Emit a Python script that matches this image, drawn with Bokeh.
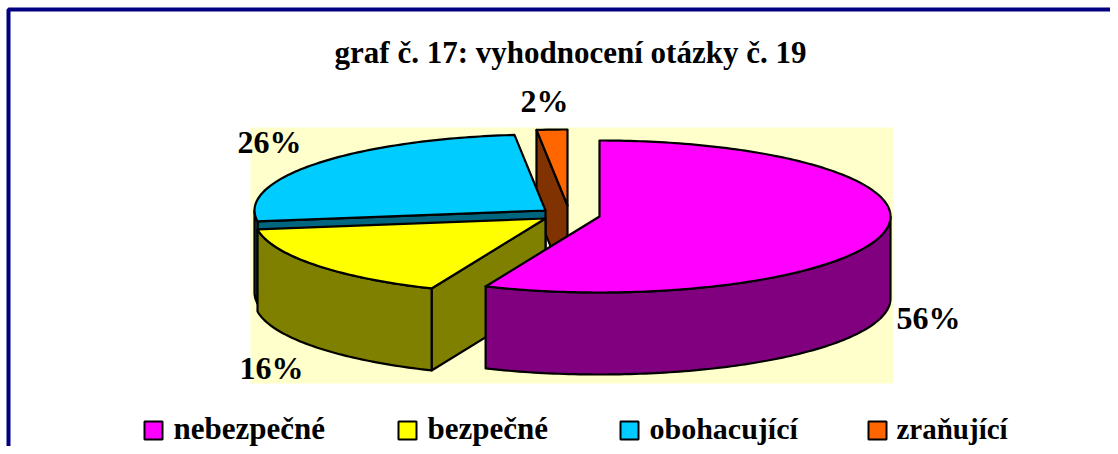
import math
from bokeh.plotting import figure
from bokeh.models import Range1d
from bokeh.core.properties import value
from bokeh.embed import file_html
from bokeh.resources import INLINE

categories = ["nebezpečné", "bezpečné", "obohacující", "zraňující"]
shares = [56.4, 16.3, 25.6, 1.7]
labels = ["56%", "16%", "26%", "2%"]
top_colors = ["#FF00FF", "#FFFF00", "#00CCFF", "#FF6600"]
side_colors = ["#800080", "#808000", "#006680", "#803300"]
title_text = "graf č. 17: vyhodnocení otázky č. 19"

W, H = 1110, 446
p = figure(width=W, height=H, output_backend="svg", toolbar_location=None,
           x_range=Range1d(0, W), y_range=Range1d(H, 0), min_border=0,
           outline_line_color=None)
p.axis.visible = False
p.grid.visible = False

FONT = value("Liberation Serif")
RX, RY, DEPTH = 291, 76, 82
centers = [(599, 216), (545, 218), (545, 210), (567, 205)]

# frame and plot-area background
p.quad(left=[8], right=[1130], top=[9], bottom=[470], fill_color="white",
       line_color="#000080", line_width=4)
p.quad(left=[250], right=[893], top=[127], bottom=[383], fill_color="#FFFFCC", line_color=None)

# angles measured clockwise from 12 o'clock
edges = [0]
for s in shares:
    edges.append(edges[-1] + s * 3.6)

def pt(c, a, dy=0):
    r = math.radians(a)
    return c[0] + RX * math.sin(r), c[1] - RY * math.cos(r) + dy

def rim(c, a0, a1, dy=0):
    n = max(2, int(abs(a1 - a0)) + 1)
    return [pt(c, a0 + (a1 - a0) * i / (n - 1), dy) for i in range(n)]

def draw(points, color):
    p.patch([q[0] for q in points], [q[1] for q in points], fill_color=color,
            line_color="black", line_width=2.2, line_join="round")

# painter's order: back slices first
for i in [3, 2, 1, 0]:
    c, a0, a1 = centers[i], edges[i], edges[i + 1]
    # cut face at the start of the slice when it looks towards the viewer
    if i != 0:
        f = pt(c, a0)
        draw([c, f, (f[0], f[1] + DEPTH), (c[0], c[1] + DEPTH)], side_colors[i])
    # outer wall: the part of the rim in the front half
    lo, hi = max(a0, 90), min(a1, 270)
    if lo < hi:
        draw(rim(c, lo, hi) + rim(c, hi, lo, DEPTH), side_colors[i])
    # top face
    draw([c] + rim(c, a0, a1), top_colors[i])

# data labels
lx = [896, 239, 237, 520]
ly = [317, 367, 141, 100]
p.text(lx, ly, text=labels, text_font=FONT, text_font_size="32px", text_font_style="bold",
       text_align="left", text_baseline="middle", text_color="black")

# title
p.text([570], [52], text=[title_text], text_font=FONT, text_font_size="31px",
       text_font_style="bold", text_align="center", text_baseline="middle", text_color="black")

# legend
mx = [153, 407, 629, 877]
p.scatter(mx, [430] * 4, marker="square", size=18, fill_color=top_colors, line_color="black", line_width=2)
tx = [173, 427, 649, 896]
legend_sizes = ["31px", "31px", "30px", "29px"]
for x, name, fs in zip(tx, categories, legend_sizes):
    p.text([x], [428], text=[name], text_font=FONT, text_font_size=fs, text_font_style="bold",
           text_align="left", text_baseline="middle", text_color="black")

open("out.html", "w").write(file_html(p, INLINE))
